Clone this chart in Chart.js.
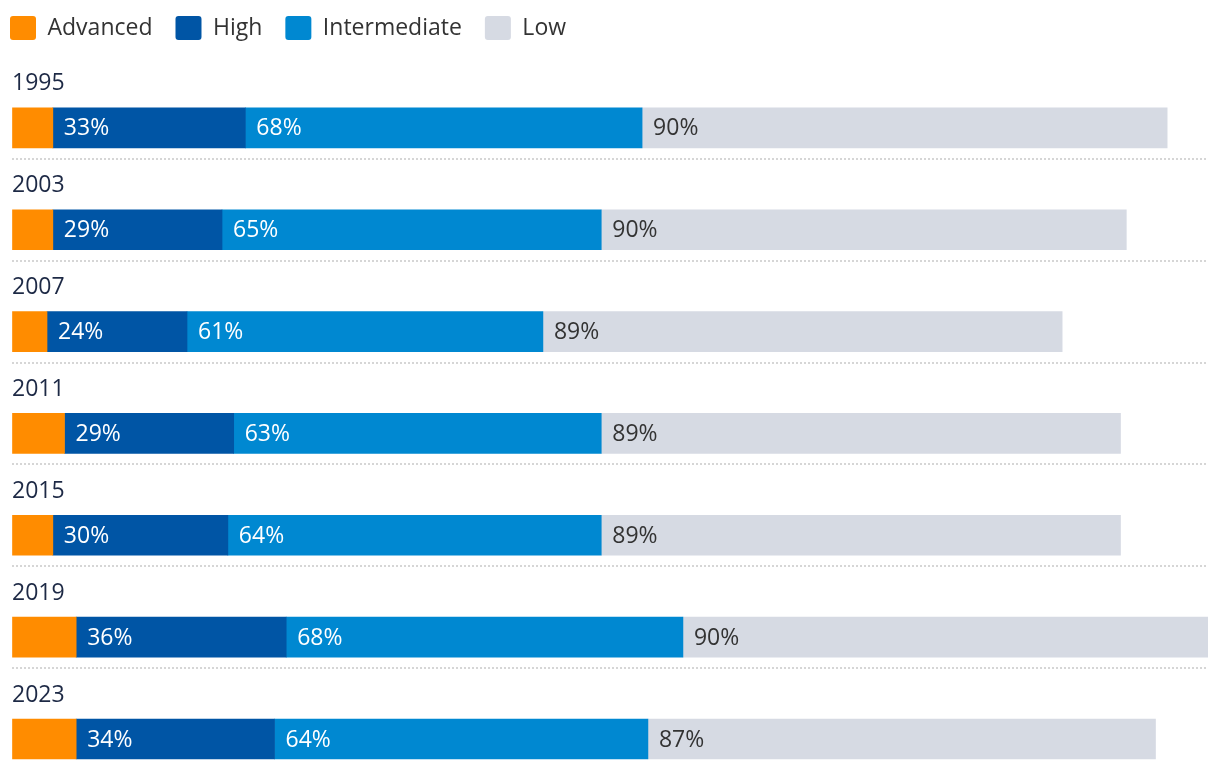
<!DOCTYPE html>
<html>
<meta charset="UTF-8">
<script src="https://cdn.jsdelivr.net/npm/chart.js"></script>
<head>
    <title>Benchmarks</title>
    <style>
        html, body { margin: 0; padding: 0; background: #fff; }
        #wrap { width: 1220px; height: 770px; }
    </style>
</head>
<body>
<div id="wrap"><canvas id="chart"></canvas></div>
<script>
    // years and cumulative shares per benchmark (as shown in the bars)
    const years = ['1995', '2003', '2007', '2011', '2015', '2019', '2023'];
    const advanced = [7, 7, 6, 9, 7, 11, 11];
    const high = [33, 29, 24, 29, 30, 36, 34];
    const intermediate = [68, 65, 61, 63, 64, 68, 64];
    const low = [90, 90, 89, 89, 89, 90, 87];

    const font = 'Open Sans';
    const totals = years.map((y, i) => advanced[i] + high[i] + intermediate[i] + low[i]);

    // draws "33%" etc. at the left edge of each segment (not on Advanced)
    const barLabels = {
        id: 'barLabels',
        afterDatasetsDraw(chart) {
            const ctx = chart.ctx;
            ctx.save();
            ctx.font = '23px "' + font + '"';
            ctx.textBaseline = 'middle';
            ctx.textAlign = 'left';
            chart.data.datasets.forEach((ds, di) => {
                if (!ds.showLabel) return;
                chart.getDatasetMeta(di).data.forEach((bar, i) => {
                    ctx.fillStyle = ds.labelColor;
                    ctx.fillText(ds.data[i] + '%', Math.min(bar.base, bar.x) + 11, bar.y + 1);
                });
            });
            ctx.restore();
        }
    };

    new Chart(document.getElementById('chart'), {
        type: 'bar',
        data: {
            labels: years,
            datasets: [
                // empty stack above each bar, leaves room for the year label
                { label: 'spacer', data: years.map(() => 0), stack: 'gap', backgroundColor: 'transparent' },
                { label: 'Advanced', data: advanced, stack: 'a', backgroundColor: '#ff8c00' },
                { label: 'High', data: high, stack: 'a', backgroundColor: '#0055a5', showLabel: true, labelColor: '#ffffff' },
                { label: 'Intermediate', data: intermediate, stack: 'a', backgroundColor: '#0088d1', showLabel: true, labelColor: '#ffffff' },
                { label: 'Low', data: low, stack: 'a', backgroundColor: '#d6dae3', showLabel: true, labelColor: '#333333' }
            ]
        },
        options: {
            indexAxis: 'y',
            responsive: true,
            maintainAspectRatio: false,
            animation: false,
            barThickness: 40,
            layout: { padding: { left: -13, right: 12, top: -7, bottom: 0 } },
            scales: {
                x: {
                    stacked: true,
                    position: 'top',
                    min: 0,
                    max: Math.max(...totals),
                    ticks: { display: false },
                    grid: { display: true, color: 'transparent', drawTicks: true, tickLength: 7, tickColor: 'transparent' },
                    border: { display: false }
                },
                y: {
                    stacked: true,
                    ticks: {
                        mirror: true,
                        padding: 0,
                        labelOffset: -24,
                        color: '#1d2945',
                        // tiny line height so the axis does not reserve space below the last row
                        font: { family: font, size: 23, lineHeight: 0.01 }
                    },
                    grid: {
                        offset: true,
                        lineWidth: 2,
                        drawTicks: true,
                        tickLength: 25,
                        tickColor: 'transparent',
                        // only the lines between rows, not above the first or below the last
                        color: (c) => (c.type !== 'tick' || c.index === 0) ? 'transparent' : '#d6d6d6'
                    },
                    border: { display: false, dash: [2, 2] }
                }
            },
            plugins: {
                legend: {
                    align: 'start',
                    labels: {
                        boxWidth: 26,
                        boxHeight: 24,
                        padding: 23,
                        useBorderRadius: true,
                        borderRadius: 3,
                        color: '#333333',
                        font: { family: font, size: 23 },
                        filter: (item) => item.text !== 'spacer'
                    }
                },
                tooltip: { enabled: false }
            }
        },
        plugins: [barLabels]
    });
</script>
</body>
</html>
